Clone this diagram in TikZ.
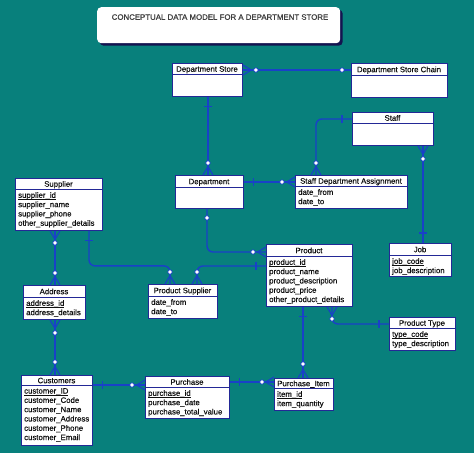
\documentclass[tikz,border=0pt]{standalone}
\usepackage{fontspec}
\setmainfont{Liberation Sans}
\newfontfamily\erfont[FakeBold=0.35]{Liberation Sans}
\newfontfamily\ttlfont[FakeBold=0.9]{Liberation Sans}
\usetikzlibrary{calc,shadows}
\definecolor{bgteal}{RGB}{8,128,124}
\definecolor{connblue}{RGB}{25,65,200}
\definecolor{entblue}{RGB}{35,40,150}
\definecolor{shadownavy}{RGB}{20,20,80}
\definecolor{txt}{RGB}{15,15,15}
% primary key underline, close to the baseline
\newcommand\pkey[1]{\setbox0\hbox{#1}\rlap{\rule[-1.7pt]{\wd0}{0.5pt}}\box0}
% entity: name, x1, y1, x2, y2, separator y, title
\newcommand\ent[7]{%
  \node[ent, minimum width={#4-#2}, minimum height={#5-#3}] (#1) at (#2,#3) {};
  \draw[draw=entblue, line width=0.8pt] (#2,#6) -- (#4,#6);
  \node[hdr] (#1-h) at ({(#2+#4)/2},{(#3+#6)/2+3.2}) {#7};
}
% rows: name, x1, separator y, content
\newcommand\rws[4]{%
  \node[rowtxt] (#1-r) at ({#2+3},{#3+3}) {#4};
}
\begin{document}
\begin{tikzpicture}[x=1pt,y=-1pt,
  ent/.style={draw=entblue,line width=0.9pt,fill=white,inner sep=0pt,anchor=north west},
  hdr/.style={anchor=base,inner sep=0pt,text=txt,font=\erfont\fontsize{7.8}{9.3}\selectfont},
  rowtxt/.style={anchor=north west,inner sep=0pt,align=left,text=txt,font=\erfont\fontsize{7.8}{9.3}\selectfont},
  conn/.style={draw=connblue,line width=1.4pt,rounded corners=6pt},
  pics/crow/.style={code={\draw[connblue,line width=1.1pt] (0,-5)--(8.5,0)--(0,5); \filldraw[draw=connblue,fill=white,line width=0.7pt] (#1,0) circle (2.2pt);}},
  pics/one/.style={code={\draw[connblue,line width=1.1pt] (#1,-4)--(#1,4);}},
  pics/ring/.style={code={\filldraw[draw=connblue,fill=white,line width=0.7pt] (#1,0) circle (2.2pt);}}
]
\useasboundingbox (0,0) rectangle (474,453);
\fill[bgteal] (0,0) rectangle (474,453);

% title
\node[fill=white, rounded corners=4pt, inner sep=0pt, anchor=north west,
      minimum width=243pt, minimum height=36pt,
      drop shadow={shadow xshift=2.5pt, shadow yshift=-2.5pt, fill=shadownavy, opacity=1}] (tbox) at (97,7) {};
\node[anchor=base, inner sep=0pt, text=black!75, font=\ttlfont\fontsize{7.85}{9}\selectfont] (title) at (220,19.8) {CONCEPTUAL DATA MODEL FOR A DEPARTMENT STORE};

% entities
\ent{dstore}{172}{63}{242}{96}{74}{Department Store}
\ent{chain}{351}{63}{447}{97}{75}{Department Store Chain}
\ent{staff}{352}{112}{433}{145}{123}{Staff}
\ent{dept}{175}{175}{243}{208}{187}{Department}
\ent{sda}{295}{175}{407}{208}{186}{Staff Department Assignment}
\rws{sda}{295}{186}{date\_from\\date\_to}
\ent{sup}{15}{178}{102}{230}{189}{Supplier}
\rws{sup}{15}{189}{\pkey{supplier\_id}\\supplier\_name\\supplier\_phone\\other\_supplier\_details}
\ent{job}{389}{243}{451}{276}{255}{Job}
\rws{job}{389}{255}{\pkey{job\_code}\\job\_description}
\ent{prod}{266}{244}{352}{306}{256}{Product}
\rws{prod}{266}{256}{\pkey{product\_id}\\product\_name\\product\_description\\product\_price\\other\_product\_details}
\ent{psup}{148}{284}{217}{318}{296}{Product Supplier}
\rws{psup}{148}{296}{date\_from\\date\_to}
\ent{addr}{23}{285}{85}{319}{297}{Address}
\rws{addr}{23}{297}{\pkey{address\_id}\\address\_details}
\ent{ptype}{389}{317}{455}{350}{328}{Product Type}
\rws{ptype}{389}{328}{\pkey{type\_code}\\type\_description}
\ent{cust}{21}{375}{92}{445}{385}{Customers}
\rws{cust}{21}{385}{\pkey{customer\_ID}\\customer\_Code\\customer\_Name\\customer\_Address\\customer\_Phone\\customer\_Email}
\ent{purch}{145}{376}{229}{418}{387}{Purchase}
\rws{purch}{145}{387}{\pkey{purchase\_id}\\purchase\_date\\purchase\_total\_value}
\ent{pitem}{274}{378}{333}{410}{388}{Purchase\_Item}
\rws{pitem}{274}{388}{\pkey{item\_id}\\item\_quantity}

% connector end points
\coordinate (c1a) at ($(dstore.north east)+(0,7)$);
\coordinate (c1b) at ($(chain.north west)+(0,7)$);
\coordinate (c2a) at ($(dstore.south west)+(36,0)$);
\coordinate (c2b) at ($(dept.north west)+(33,0)$);
\coordinate (c3a) at ($(staff.north west)+(0,7)$);
\coordinate (c3b) at ($(sda.north west)+(21,0)$);
\coordinate (c4a) at ($(dept.north east)+(0,7)$);
\coordinate (c4b) at ($(sda.north west)+(0,7)$);
\coordinate (c5a) at ($(staff.south west)+(71,0)$);
\coordinate (c5b) at ($(job.north west)+(34,0)$);
\coordinate (c6a) at ($(sup.south west)+(40,0)$);
\coordinate (c6b) at ($(addr.north west)+(32,0)$);
\coordinate (c7a) at ($(addr.south west)+(32,0)$);
\coordinate (c7b) at ($(cust.north west)+(34,0)$);
\coordinate (c8a) at ($(sup.south west)+(74,0)$);
\coordinate (c8b) at ($(psup.north west)+(22,0)$);
\coordinate (c9a) at ($(prod.north west)+(0,22)$);
\coordinate (c9b) at ($(psup.north west)+(49,0)$);
\coordinate (c10a) at ($(dept.south west)+(32,0)$);
\coordinate (c10b) at ($(prod.north west)+(0,8)$);
\coordinate (c11a) at ($(prod.south west)+(66,0)$);
\coordinate (c11b) at ($(ptype.north west)+(0,7)$);
\coordinate (c12a) at ($(prod.south west)+(37,0)$);
\coordinate (c12b) at ($(pitem.north west)+(29,0)$);
\coordinate (c13a) at ($(cust.north east)+(0,10)$);
\coordinate (c13b) at ($(purch.north west)+(0,9)$);
\coordinate (c14a) at ($(purch.north east)+(0,6)$);
\coordinate (c14b) at ($(pitem.north west)+(0,4)$);

% connectors
\draw[conn] (c1a) -- (c1b);
\draw[conn] (c2a) -- (c2b);
\draw[conn] (c3a) -| (c3b);
\draw[conn] (c4a) -- (c4b);
\draw[conn] (c5a) -- (c5b);
\draw[conn] (c6a) -- (c6b);
\draw[conn] (c7a) -- (c7b);
\draw[conn] (c8a) -- ++(0,35) -| (c8b);
\draw[conn] (c9a) -| (c9b);
\draw[conn] (c10a) |- (c10b);
\draw[conn] (c11a) |- (c11b);
\draw[conn] (c12a) -- (c12b);
\draw[conn] (c13a) -- (c13b);
\draw[conn] (c14a) -- (c14b);

% end symbols
\pic[rotate=0] at (c1a) {crow=13};
\pic[rotate=180] at (c1b) {ring=9};
\pic[rotate=270] at (c2a) {one=10};
\pic[rotate=90] at (c2b) {crow=12};
\pic[rotate=180] at (c3a) {one=10};
\pic[rotate=90] at (c3b) {crow=12};
\pic[rotate=0] at (c4a) {one=10};
\pic[rotate=180] at (c4b) {crow=13};
\pic[rotate=270] at (c5a) {crow=13};
\pic[rotate=90] at (c5b) {one=10};
\pic[rotate=270] at (c6a) {crow=12};
\pic[rotate=90] at (c6b) {crow=12};
\pic[rotate=270] at (c7a) {crow=13};
\pic[rotate=90] at (c7b) {crow=13};
\pic[rotate=270] at (c8a) {one=10};
\pic[rotate=90] at (c8b) {crow=12};
\pic[rotate=180] at (c9a) {one=10};
\pic[rotate=90] at (c9b) {crow=12};
\pic[rotate=270] at (c10a) {ring=9};
\pic[rotate=180] at (c10b) {crow=13};
\pic[rotate=270] at (c11a) {crow=12};
\pic[rotate=180] at (c11b) {one=10};
\pic[rotate=270] at (c12a) {one=10};
\pic[rotate=90] at (c12b) {crow=14};
\pic[rotate=0] at (c13a) {one=10};
\pic[rotate=180] at (c13b) {crow=13};
\pic[rotate=0] at (c14a) {one=10};
\pic[rotate=180] at (c14b) {crow=12};
\end{tikzpicture}
\end{document}
